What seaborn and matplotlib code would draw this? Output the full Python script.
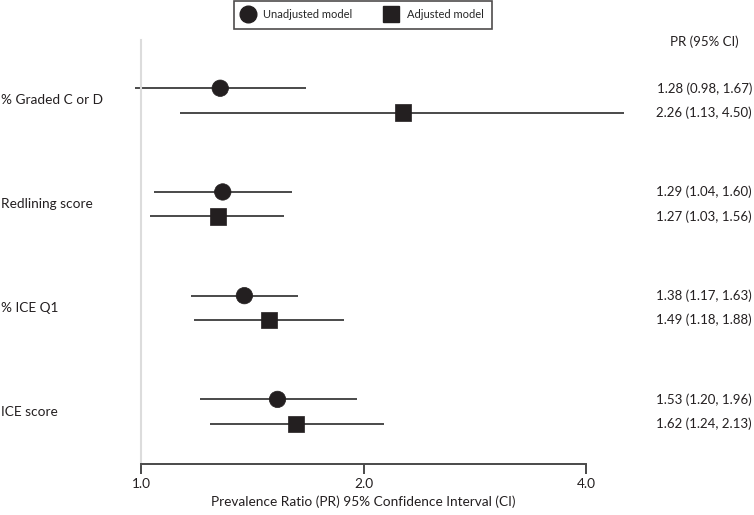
import numpy as np
import pandas as pd
import seaborn as sns
import matplotlib.pyplot as plt
import matplotlib.transforms as mtransforms
from matplotlib.lines import Line2D

# data
exposures = ["% Graded C or D", "Redlining score", "% ICE Q1", "ICE score"]
unadj_pr = [1.28, 1.29, 1.38, 1.53]
unadj_lo = [0.98, 1.04, 1.17, 1.20]
unadj_hi = [1.67, 1.60, 1.63, 1.96]
adj_pr = [2.26, 1.27, 1.49, 1.62]
adj_lo = [1.13, 1.03, 1.18, 1.24]
adj_hi = [4.50, 1.56, 1.88, 2.13]
xticks = [1.0, 2.0, 4.0]

sns.set_theme(style="white")
plt.rcParams["font.family"] = ["Lato", "DejaVu Sans"]

rows = []
for i, name in enumerate(exposures):
    rows.append({"exposure": name, "model": "Unadjusted model", "pos": i - 0.118,
                 "pr": unadj_pr[i], "lo": unadj_lo[i], "hi": unadj_hi[i]})
    rows.append({"exposure": name, "model": "Adjusted model", "pos": i + 0.118,
                 "pr": adj_pr[i], "lo": adj_lo[i], "hi": adj_hi[i]})
df = pd.DataFrame(rows)

W, H = 754, 515
fig = plt.figure(figsize=(W / 100, H / 100), dpi=100)
ax = fig.add_axes([141 / W, 1 - 464 / H, (586 - 141) / W, (464 - 40) / H])

dark = "#231f20"
ax.hlines(df["pos"], df["lo"], df["hi"], color="#4a4a4a", lw=1.4, clip_on=False, zorder=2)
sns.scatterplot(data=df, x="pr", y="pos", style="model",
                markers={"Unadjusted model": "o", "Adjusted model": "s"},
                color=dark, s=140, edgecolor=dark, linewidth=0.5,
                legend=False, ax=ax, clip_on=False, zorder=3)

ax.set_xscale("log")
ax.set_xlim(1.0, 4.0)
ax.set_ylim(3.505, -0.583)
ax.set_xticks(xticks)
ax.set_xticklabels([f"{t:.1f}" for t in xticks])
ax.minorticks_off()
ax.set_yticks([])
ax.set_ylabel("")
ax.set_xlabel("Prevalence Ratio (PR) 95% Confidence Interval (CI)", fontsize=9.8, color=dark, labelpad=4)
ax.tick_params(axis="x", direction="out", length=7, width=1.4, color="#4a4a4a",
               labelsize=9.8, labelcolor=dark, pad=3, bottom=True)

for s in ["top", "right"]:
    ax.spines[s].set_visible(False)
ax.spines["left"].set_color("#dcdcdc")
ax.spines["left"].set_linewidth(1.5)
ax.spines["bottom"].set_color("#4a4a4a")
ax.spines["bottom"].set_linewidth(1.4)

# row labels and PR text
tr_left = mtransforms.blended_transform_factory(fig.transFigure, ax.transData)
for i, name in enumerate(exposures):
    ax.text(1 / W, i, name, transform=tr_left, ha="left", va="center", fontsize=9.8, color=dark)
for _, r in df.iterrows():
    ax.text(752 / W, r["pos"], f"{r['pr']:.2f} ({r['lo']:.2f}, {r['hi']:.2f})",
            transform=tr_left, ha="right", va="center", fontsize=9.5, color=dark)
fig.text(704 / W, 1 - 42 / H, "PR (95% CI)", ha="center", va="center", fontsize=9.5, color=dark)

handles = [Line2D([], [], marker="o", ls="", color=dark, markersize=12),
           Line2D([], [], marker="s", ls="", color=dark, markersize=12)]
leg = fig.legend(handles, ["Unadjusted model", "Adjusted model"], loc="upper center",
                 bbox_to_anchor=(363 / W, 1.0 - 1 / H), ncol=2, frameon=True, fancybox=False,
                 fontsize=8, handletextpad=0.9, columnspacing=3.0, borderpad=0.75,
                 handlelength=1.0, borderaxespad=0)
leg.get_frame().set_edgecolor(dark)
leg.get_frame().set_linewidth(1.2)

fig.savefig("out.png", dpi=100)
